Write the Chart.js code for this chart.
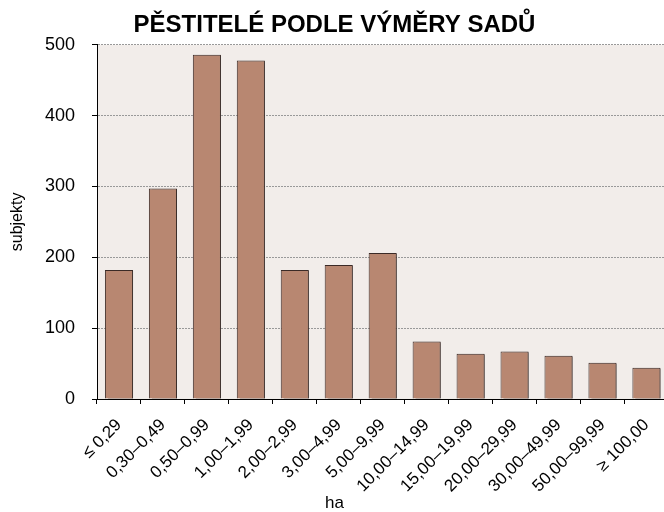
<!DOCTYPE html>
<html>
<head>
<meta charset="utf-8">
<script src="https://cdn.jsdelivr.net/npm/chart.js@4/dist/chart.umd.min.js"></script>
<style>
  html, body { margin: 0; padding: 0; overflow: hidden; background: #fff; }
</style>
</head>
<body>
<canvas id="chartCanvas" width="672" height="512"></canvas>
<script>
// velikostní skupiny (ha) a počty subjektů
const categories = ['≤ 0,29', '0,30–0,49', '0,50–0,99', '1,00–1,99', '2,00–2,99', '3,00–4,99',
  '5,00–9,99', '10,00–14,99', '15,00–19,99', '20,00–29,99', '30,00–49,99', '50,00–99,99', '≥ 100,00'];
const subjekty = [182, 297, 486, 478, 182, 189, 206, 81, 64, 67, 61, 51, 44];
const yTicks = [0, 100, 200, 300, 400, 500];

const font = 'Liberation Sans, Arial, sans-serif';

// background of the plot area
const plotBg = {
  id: 'plotBg',
  beforeDraw(chart) {
    const a = chart.chartArea, c = chart.ctx;
    c.save();
    c.fillStyle = '#f2edea';
    c.fillRect(a.left, a.top, a.right - a.left, a.bottom - a.top);
    c.restore();
  }
};

// drop shadow to the right of the bars
const barShadow = {
  id: 'barShadow',
  beforeDatasetsDraw(chart) {
    const c = chart.ctx;
    c.save();
    c.shadowColor = 'rgba(60,50,45,0.55)';
    c.shadowOffsetX = 3;
    c.shadowOffsetY = 1;
    c.shadowBlur = 0;
  },
  afterDatasetsDraw(chart) {
    chart.ctx.restore();
  }
};

const ctx = document.getElementById('chartCanvas').getContext('2d');
new Chart(ctx, {
  type: 'bar',
  data: {
    labels: categories,
    datasets: [{
      label: 'subjekty',
      data: subjekty,
      backgroundColor: '#b88771',
      borderColor: '#3b2a26',
      borderWidth: 1,
      borderSkipped: 'bottom',
      barPercentage: 0.64,
      categoryPercentage: 1.0
    }]
  },
  options: {
    responsive: false,
    animation: false,
    layout: { padding: { left: 0, right: 3, top: 0, bottom: 0 } },
    plugins: {
      legend: { display: false },
      tooltip: { enabled: false },
      title: {
        display: true,
        text: 'PĚSTITELÉ PODLE VÝMĚRY SADŮ',
        color: '#000',
        font: { family: font, size: 24, weight: 'bold' },
        padding: { top: 11, bottom: 5 }
      },
      subtitle: {
        display: true,
        position: 'bottom',
        text: 'ha',
        color: '#000',
        font: { family: font, size: 17, lineHeight: 1.0 },
        padding: { top: 0, bottom: 0 }
      }
    },
    scales: {
      x: {
        grid: {
          display: true,
          offset: true,
          drawOnChartArea: false,
          drawTicks: true,
          tickLength: 5,
          tickColor: '#000'
        },
        border: { display: true, color: '#000', width: 1 },
        ticks: {
          color: '#000',
          font: { family: font, size: 17 },
          maxRotation: 45,
          minRotation: 45,
          autoSkip: false,
          padding: 11
        },
        afterFit(scale) { scale.height = 96; }
      },
      y: {
        min: 0,
        max: 500,
        afterBuildTicks(scale) { scale.ticks = yTicks.map(v => ({ value: v })); },
        grid: {
          color: '#999',
          lineWidth: 1,
          drawTicks: true,
          tickLength: 5,
          tickColor: '#000',
          tickBorderDash: []
        },
        border: { display: true, color: '#000', width: 1, dash: [2, 1] },
        ticks: {
          color: '#000',
          font: { family: font, size: 18 },
          padding: 17
        },
        title: {
          display: true,
          text: 'subjekty',
          color: '#000',
          font: { family: font, size: 16 },
          padding: { top: 8, bottom: 0 }
        },
        afterFit(scale) { scale.width = 97; }
      }
    }
  },
  plugins: [plotBg, barShadow]
});
</script>
</body>
</html>
